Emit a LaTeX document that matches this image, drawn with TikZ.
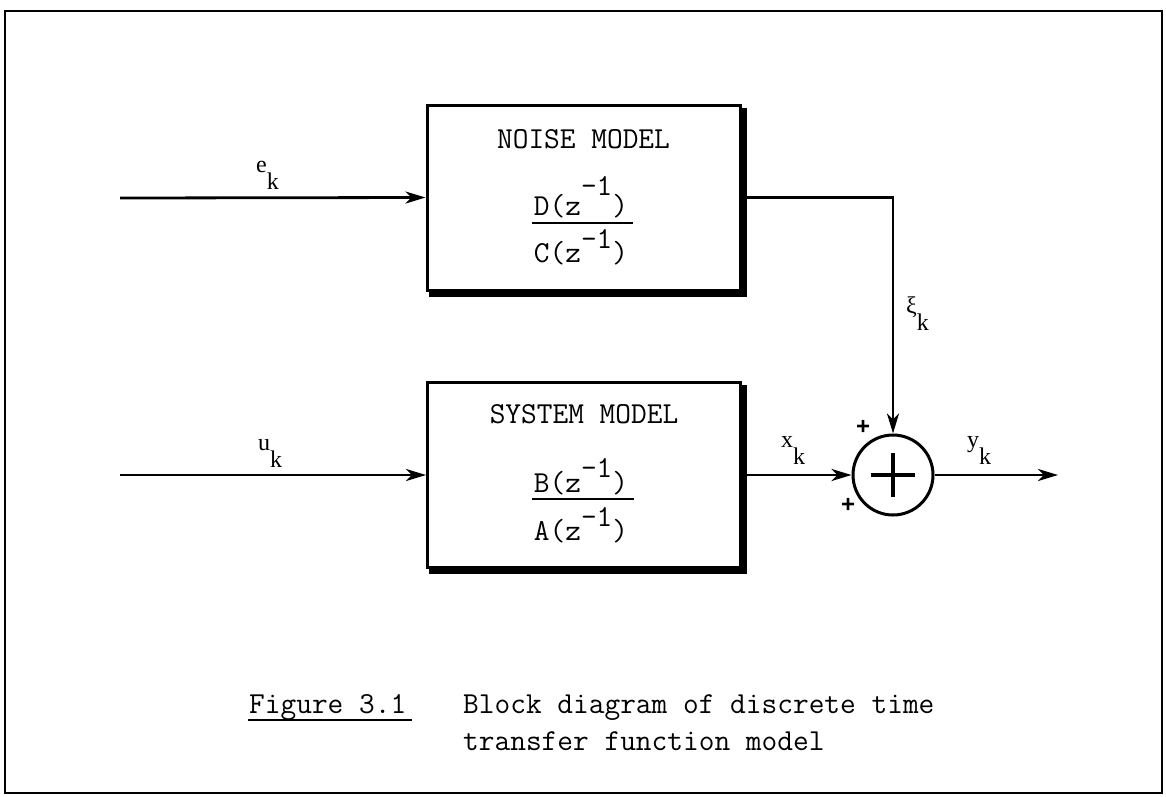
\documentclass[tikz,border=0pt]{standalone}
\usepackage{fontspec}
\newfontfamily\lblfont{Liberation Serif}
\newfontfamily\plsfont{Liberation Sans}
\usetikzlibrary{arrows.meta}
\newcommand\sigl[2]{#1\raisebox{-17pt}{#2}}
\newcommand\twfont{\fontsize{30.5pt}{36pt}\ttfamily}
\newcommand\supr[2]{\raisebox{#1}{#2}}
\begin{document}
\begin{tikzpicture}[x=1pt,y=-1pt,
  blockbox/.style={draw, line width=3pt, minimum width=313pt, minimum height=185pt, inner sep=0pt},
  shadowline/.style={line width=5pt},
  conn/.style={line width=2.8pt, -{Stealth[length=20pt,width=12pt,inset=6pt]}},
  lbl/.style={font=\fontsize{24pt}{24pt}\lblfont, inner sep=0pt, anchor=base west},
  twtext/.style={font=\twfont, inner sep=0pt, anchor=base},
  twleft/.style={font=\twfont, inner sep=0pt, anchor=base west},
  fracbar/.style={line width=2pt},
  sign/.style={font=\fontsize{24pt}{24pt}\plsfont\bfseries, inner sep=0pt},
  sumcircle/.style={draw, circle, line width=3pt, minimum size=80pt, inner sep=0pt},
  bigplus/.style={line width=4pt}
]
\useasboundingbox (0,0) rectangle (1166,796);
\draw[line width=2.4pt] (5,11) rectangle (1162,793);

% blocks
\node[blockbox] (noise) at (583.5,197.5) {};
\node[blockbox] (sys) at (584,475) {};
\foreach \b in {noise,sys}{
  \draw[shadowline] ([xshift=2.5pt,yshift=-4pt]\b.north east) -- ([xshift=2.5pt,yshift=-2.5pt]\b.south east) -- ([xshift=3pt,yshift=-2.5pt]\b.south west);
}

% block texts
\node[twtext] (ntitle) at (583.5,148) {NOISE MODEL};
\node[twtext] (nnum) at (581,215) {D(z\supr{20pt}{-1})};
\node[twtext] (nden) at (581,262) {C(z\supr{14pt}{-1})};
\coordinate (nbarl) at (532,223);
\coordinate (nbarr) at (633,223);
\draw[fracbar] (nbarl) -- (nbarr);

\node[twtext] (stitle) at (584,423) {SYSTEM MODEL};
\node[twtext] (snum) at (581,492) {B(z\supr{15pt}{-1})};
\node[twtext] (sden) at (581,540) {A(z\supr{14pt}{-1})};
\coordinate (sbarl) at (532,499);
\coordinate (sbarr) at (634,499);
\draw[fracbar] (sbarl) -- (sbarr);

% summing junction
\node[sumcircle] (sum) at (893,475) {};
\draw[bigplus] ([xshift=-22pt]sum.center) -- ([xshift=22pt]sum.center);
\draw[bigplus] ([yshift=22pt]sum.center) -- ([yshift=-22pt]sum.center);

% inputs and outputs
\coordinate (ein) at (120,198);
\coordinate (uin) at (120,475);
\coordinate (yout) at (1058,475);

\draw[conn] (ein) -- (noise.west);
\draw[conn] (uin) -- (sys.west);
\draw[conn] (noise.east) -| (sum.north);
\draw[conn] (sys.east) -- (sum.west);
\draw[conn] (sum.east) -- (yout);

% signal labels
\node[lbl] (elbl) at (256,172) {\sigl{e}{k}};
\node[lbl] (ulbl) at (258,450) {\sigl{u}{k}};
\node[lbl] (xlbl) at (781,447) {\sigl{x}{k}};
\node[lbl] (ylbl) at (967,447) {\sigl{y}{k}};
\node[lbl] (xilbl) at (906,313) {\sigl{ξ}{k}};

% signs
\node[sign] (ptop) at (863,427) {+};
\node[sign] (pbot) at (848,505) {+};

% caption
\node[twleft] (figlbl) at (249,713) {Figure 3.1};
\draw[line width=1.5pt] ([xshift=-1pt,yshift=-7pt]figlbl.base west) -- ([xshift=6pt,yshift=-7pt]figlbl.base east);
\node[twleft] (cap1) at (463,713) {Block diagram of discrete time};
\node[twleft] (cap2) at (463,750) {transfer function model};
\end{tikzpicture}
\end{document}
